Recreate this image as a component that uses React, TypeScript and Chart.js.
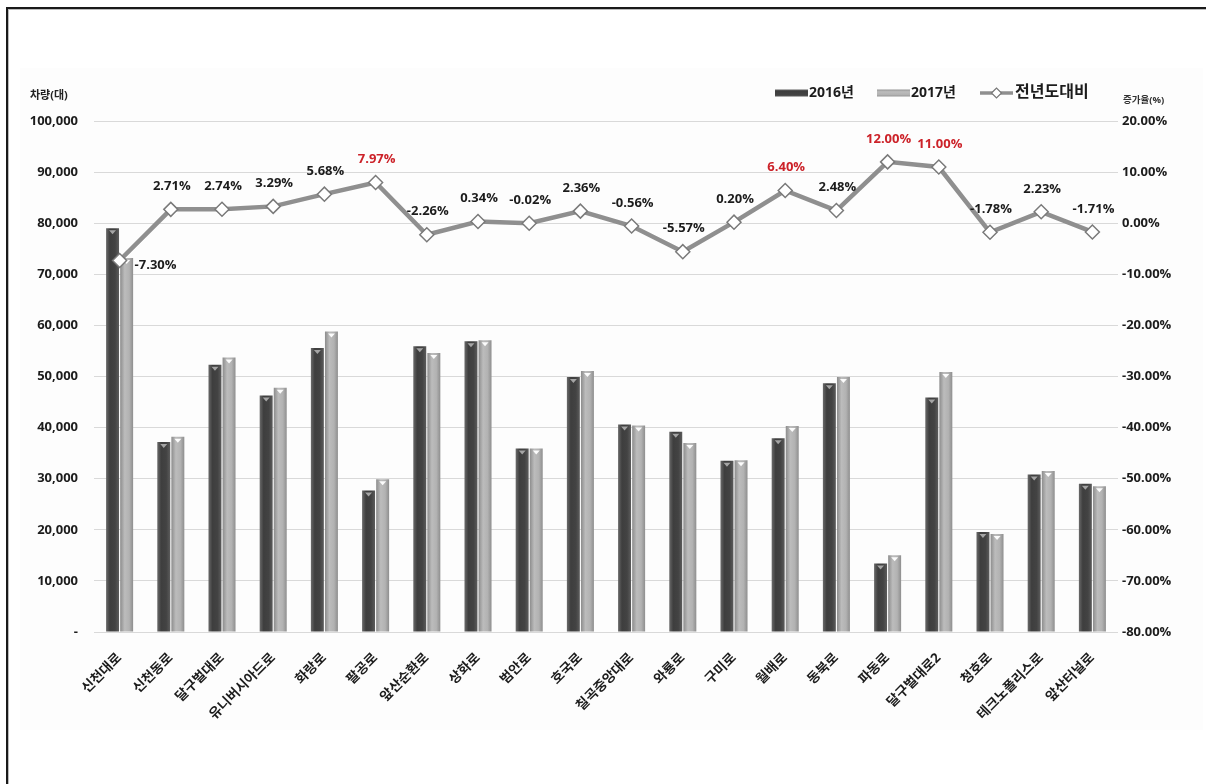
import React, { useEffect, useRef } from 'react';
import { Chart, registerables } from 'chart.js';

Chart.register(...registerables);

const categories = [
  '신천대로', '신천동로', '달구벌대로', '유니버시아드로', '화랑로', '팔공로', '앞산순환로',
  '상화로', '범안로', '호국로', '칠곡중앙대로', '와룡로', '구미로', '월배로', '동북로',
  '파동로', '달구벌대로2', '청호로', '테크노폴리스로', '앞산터널로',
];
const traffic2016 = [
  79000, 37200, 52300, 46300, 55600, 27700, 55900, 56900, 35900, 49900,
  40600, 39200, 33500, 37900, 48700, 13400, 45900, 19550, 30800, 29000,
];
const traffic2017 = [
  73200, 38200, 53700, 47800, 58800, 29900, 54600, 57100, 35900, 51100,
  40400, 37000, 33600, 40300, 49900, 15000, 50900, 19200, 31500, 28500,
];
const changeRate = [
  -7.3, 2.71, 2.74, 3.29, 5.68, 7.97, -2.26, 0.34, -0.02, 2.36,
  -0.56, -5.57, 0.2, 6.4, 2.48, 12.0, 11.0, -1.78, 2.23, -1.71,
];
const redLabelIdx = [5, 13, 15, 16];
const seriesNames = ['2016년', '2017년', '전년도대비'];
const leftAxisTitle = '차량(대)';
const rightAxisTitle = '증가율(%)';

const FONT = '"Open Sans", "Noto Sans CJK KR", sans-serif';
const CAT_PCT = 0.55;
const BAR_PCT = 0.92;

function barGradient(slotIndex: number, stops: [number, string][], fallback: string) {
  return (ctx: any) => {
    const chart = ctx.chart;
    const xs = chart.scales && chart.scales.x;
    if (!xs || !xs.width || ctx.type !== 'data') return fallback;
    const catW = xs.width / categories.length;
    const slot = (catW * CAT_PCT) / 2;
    const bw = slot * BAR_PCT;
    const center = xs.getPixelForValue(ctx.dataIndex);
    const left = center - slot + slotIndex * slot + (slot - bw) / 2;
    const g = chart.ctx.createLinearGradient(left, 0, left + bw, 0);
    stops.forEach(([o, c]) => g.addColorStop(o, c));
    return g;
  };
}

const darkStops: [number, string][] = [
  [0, '#6a6a6a'], [0.3, '#3e3e3e'], [0.7, '#434343'], [1, '#5c5c5c'],
];
const lightStops: [number, string][] = [
  [0, '#8c8c8c'], [0.35, '#bcbcbc'], [0.7, '#b2b2b2'], [1, '#8e8e8e'],
];

const capPlugin = {
  id: 'barCaps',
  afterDatasetDraw(chart: any, args: any) {
    if (args.index < 1) return;
    const ctx = chart.ctx;
    const meta = chart.getDatasetMeta(args.index);
    ctx.save();
    ctx.fillStyle = args.index === 1 ? 'rgba(190,190,190,0.8)' : 'rgba(255,255,255,0.95)';
    meta.data.forEach((el: any) => {
      ctx.beginPath();
      ctx.moveTo(el.x - 3.5, el.y + 2);
      ctx.lineTo(el.x + 3.5, el.y + 2);
      ctx.lineTo(el.x, el.y + 6);
      ctx.closePath();
      ctx.fill();
    });
    ctx.restore();
  },
};

const labelPlugin = {
  id: 'pctLabels',
  afterDatasetsDraw(chart: any) {
    const meta = chart.getDatasetMeta(0);
    const ctx = chart.ctx;
    ctx.save();
    ctx.font = `bold 13px ${FONT}`;
    ctx.textBaseline = 'middle';
    meta.data.forEach((pt: any, i: number) => {
      const txt = changeRate[i].toFixed(2) + '%';
      ctx.fillStyle = redLabelIdx.includes(i) ? '#cc2229' : '#1c1c1c';
      if (i === 0) {
        ctx.textAlign = 'left';
        ctx.fillText(txt, pt.x + 15, pt.y + 5);
      } else {
        ctx.textAlign = 'center';
        ctx.fillText(txt, pt.x + 1, pt.y - 23);
      }
    });
    ctx.restore();
  },
};

const decorPlugin = {
  id: 'decor',
  afterDraw(chart: any) {
    const ctx = chart.ctx;
    ctx.save();
    ctx.textBaseline = 'middle';
    ctx.textAlign = 'left';
    ctx.fillStyle = '#222';
    ctx.font = `bold 11px ${FONT}`;
    ctx.fillText(leftAxisTitle, 30, 96);
    ctx.fillStyle = '#333';
    ctx.font = `bold 9.5px ${FONT}`;
    ctx.fillText(rightAxisTitle, 1123, 100);

    const y = 93;
    const swatch = (x: number, stops: [number, string][]) => {
      const g = ctx.createLinearGradient(0, y - 4, 0, y + 4);
      stops.forEach(([o, c]) => g.addColorStop(o, c));
      ctx.fillStyle = g;
      ctx.fillRect(x, y - 3.5, 33, 7);
    };
    swatch(775, darkStops);
    ctx.fillStyle = '#1c1c1c';
    ctx.font = `bold 14px ${FONT}`;
    ctx.fillText(seriesNames[0], 809, y);
    swatch(877, lightStops);
    ctx.fillStyle = '#1c1c1c';
    ctx.fillText(seriesNames[1], 911, y);
    ctx.strokeStyle = '#8f8f8f';
    ctx.lineWidth = 3.5;
    ctx.beginPath();
    ctx.moveTo(980, y);
    ctx.lineTo(1013, y);
    ctx.stroke();
    ctx.beginPath();
    ctx.moveTo(996.5 - 5, y);
    ctx.lineTo(996.5, y - 5);
    ctx.lineTo(996.5 + 5, y);
    ctx.lineTo(996.5, y + 5);
    ctx.closePath();
    ctx.fillStyle = '#fff';
    ctx.fill();
    ctx.lineWidth = 1.2;
    ctx.strokeStyle = '#777';
    ctx.stroke();
    ctx.fillStyle = '#1c1c1c';
    ctx.font = `bold 16px ${FONT}`;
    ctx.fillText(seriesNames[2], 1015, y - 1);
    ctx.restore();
  },
};

export default function App() {
  const ref = useRef<HTMLCanvasElement>(null);

  useEffect(() => {
    if (!ref.current) return;
    const chart = new Chart(ref.current, {
      type: 'bar',
      data: {
        labels: categories,
        datasets: [
          {
            type: 'line',
            label: seriesNames[2],
            data: changeRate,
            yAxisID: 'y1',
            order: 0,
            borderColor: '#8f8f8f',
            borderWidth: 4.5,
            pointStyle: 'rectRot',
            pointRadius: 7,
            pointBackgroundColor: '#ffffff',
            pointBorderColor: '#7a7a7a',
            pointBorderWidth: 1.5,
            tension: 0,
          } as any,
          {
            type: 'bar',
            label: seriesNames[0],
            data: traffic2016,
            yAxisID: 'y',
            order: 1,
            backgroundColor: barGradient(0, darkStops, '#444'),
            categoryPercentage: CAT_PCT,
            barPercentage: BAR_PCT,
          },
          {
            type: 'bar',
            label: seriesNames[1],
            data: traffic2017,
            yAxisID: 'y',
            order: 1,
            backgroundColor: barGradient(1, lightStops, '#aaa'),
            categoryPercentage: CAT_PCT,
            barPercentage: BAR_PCT,
          },
        ],
      },
      options: {
        responsive: false,
        animation: false,
        devicePixelRatio: 1,
        layout: { padding: { top: 121, left: 0, right: 0, bottom: 0 } },
        plugins: {
          legend: { display: false },
          tooltip: { enabled: false },
        },
        scales: {
          x: {
            grid: { display: false },
            border: { display: false },
            ticks: {
              autoSkip: false,
              minRotation: 45,
              maxRotation: 45,
              padding: 10,
              color: '#1c1c1c',
              font: { family: FONT, size: 13.5, weight: 'bold' },
            },
            afterFit: (s: any) => {
              s.height = 152;
            },
          },
          y: {
            position: 'left',
            min: 0,
            max: 100000,
            ticks: {
              stepSize: 10000,
              padding: 16,
              color: '#1c1c1c',
              font: { family: FONT, size: 13, weight: 'bold' },
              callback: (v: any) => (Number(v) === 0 ? '-' : Number(v).toLocaleString('en-US')),
            },
            grid: { color: '#d9d9d9', lineWidth: 1, drawTicks: false },
            border: { display: false },
            afterFit: (s: any) => {
              s.width = 94;
            },
          },
          y1: {
            position: 'right',
            min: -80,
            max: 20,
            ticks: {
              stepSize: 10,
              padding: 4,
              color: '#1c1c1c',
              font: { family: FONT, size: 13, weight: 'bold' },
              callback: (v: any) => Number(v).toFixed(2) + '%',
            },
            grid: { drawOnChartArea: false, drawTicks: false },
            border: { display: false },
            afterFit: (s: any) => {
              s.width = 88;
            },
          },
        },
      } as any,
      plugins: [capPlugin, labelPlugin, decorPlugin],
    });
    return () => chart.destroy();
  }, []);

  return (
    <div style={{ position: 'fixed', left: 0, top: 0, width: 1206, height: 784, background: '#fff', overflow: 'hidden' }}>
      <div style={{ position: 'absolute', left: 20, top: 68, width: 1183, height: 662, background: '#fdfdfd' }} />
      <div
        style={{
          position: 'absolute',
          left: 6,
          top: 7,
          width: 1300,
          height: 900,
          borderLeft: '2px solid #1a1a1a',
          borderTop: '2px solid #1a1a1a',
          boxShadow: 'inset 1px 1px 0 #bbb',
        }}
      />
      <canvas ref={ref} width={1206} height={784} style={{ position: 'absolute', left: 0, top: 0 }} />
    </div>
  );
}
